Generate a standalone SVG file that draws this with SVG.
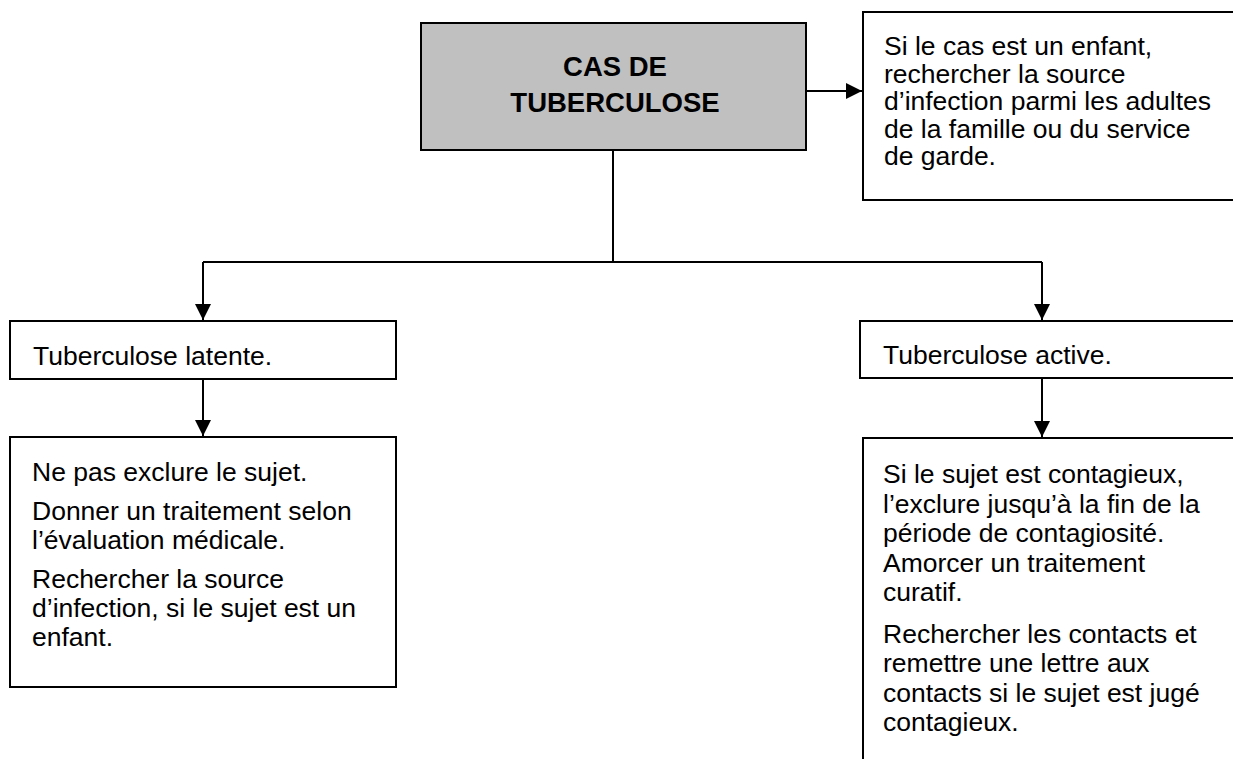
<svg xmlns="http://www.w3.org/2000/svg" width="1233" height="759" viewBox="0 0 1233 759">
<style>
.box{fill:#ffffff;stroke:#000000;stroke-width:2}
.main{fill:#c0c0c0;stroke:#000000;stroke-width:2}
.t{font-family:"Liberation Sans",Arial,sans-serif;font-size:26.5px;fill:#000000}
.tb{font-family:"Liberation Sans",Arial,sans-serif;font-size:27.5px;font-weight:bold;fill:#000000;text-anchor:middle}
.ln{fill:none;stroke:#000000;stroke-width:2}
</style>
<defs>
<marker id="ah" markerWidth="16" markerHeight="16" refX="16" refY="8" orient="auto" markerUnits="userSpaceOnUse">
<path d="M0,0 L16,8 L0,16 Z" fill="#000000"/>
</marker>
</defs>
<rect width="1233" height="759" fill="#ffffff"/>
<g id="connectors">
<line class="ln" x1="806" y1="91" x2="862" y2="91" marker-end="url(#ah)"/>
<polyline class="ln" points="613,150 613,262"/>
<polyline class="ln" points="203,262 1042,262"/>
<line class="ln" x1="203" y1="262" x2="203" y2="320" marker-end="url(#ah)"/>
<line class="ln" x1="1042" y1="262" x2="1042" y2="320" marker-end="url(#ah)"/>
<line class="ln" x1="203" y1="379" x2="203" y2="436" marker-end="url(#ah)"/>
<line class="ln" x1="1042" y1="379" x2="1042" y2="437" marker-end="url(#ah)"/>
</g>
<g id="cas">
<rect class="main" x="421" y="23" width="385" height="127"/>
<text class="tb" x="615" y="76">CAS DE</text>
<text class="tb" x="615" y="112">TUBERCULOSE</text>
</g>
<g id="enfant">
<rect class="box" x="863" y="12" width="420" height="188"/>
<text class="t" x="884" y="55">Si le cas est un enfant,</text>
<text class="t" x="884" y="82.5">rechercher la source</text>
<text class="t" x="884" y="110">d’infection parmi les adultes</text>
<text class="t" x="884" y="137.5">de la famille ou du service</text>
<text class="t" x="884" y="165">de garde.</text>
</g>
<g id="latente">
<rect class="box" x="10" y="321" width="386" height="58"/>
<text class="t" x="33" y="365">Tuberculose latente.</text>
</g>
<g id="active">
<rect class="box" x="860" y="321" width="420" height="57"/>
<text class="t" x="883" y="364">Tuberculose active.</text>
</g>
<g id="latente-actions">
<rect class="box" x="10" y="437" width="386" height="250"/>
<text class="t" x="32" y="481">Ne pas exclure le sujet.</text>
<text class="t" x="32" y="520">Donner un traitement selon</text>
<text class="t" x="32" y="549">l’évaluation médicale.</text>
<text class="t" x="32" y="588">Rechercher la source</text>
<text class="t" x="32" y="617">d’infection, si le sujet est un</text>
<text class="t" x="32" y="646">enfant.</text>
</g>
<g id="active-actions">
<rect class="box" x="863" y="438" width="420" height="400"/>
<text class="t" x="883" y="483">Si le sujet est contagieux,</text>
<text class="t" x="883" y="512.5">l’exclure jusqu’à la fin de la</text>
<text class="t" x="883" y="542">période de contagiosité.</text>
<text class="t" x="883" y="571.5">Amorcer un traitement</text>
<text class="t" x="883" y="601">curatif.</text>
<text class="t" x="883" y="642.5">Rechercher les contacts et</text>
<text class="t" x="883" y="672">remettre une lettre aux</text>
<text class="t" x="883" y="701.5">contacts si le sujet est jugé</text>
<text class="t" x="883" y="731">contagieux.</text>
</g>
</svg>
